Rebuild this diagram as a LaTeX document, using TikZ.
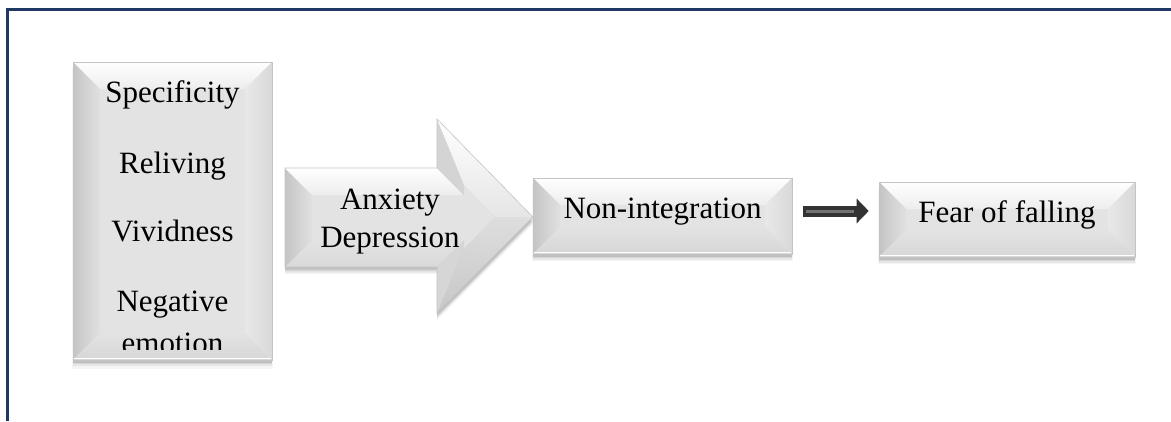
\documentclass[tikz,border=0pt]{standalone}
\usepackage{fontspec}
\setmainfont{Liberation Serif}
\usetikzlibrary{calc,arrows.meta,shadows}
\definecolor{framecol}{HTML}{1F3864}
\definecolor{facec}{HTML}{E3E3E3}
\definecolor{edgec}{HTML}{C4C4C4}
\newcommand\mybevelfaces[1]{%
  \path (path picture bounding box.south west) coordinate (q1)
        (path picture bounding box.north west) coordinate (q2)
        (path picture bounding box.north east) coordinate (q3)
        (path picture bounding box.south east) coordinate (q4);
  \shade[top color=white, bottom color=black!7]
    (q2) -- (q3) -- ([shift={(-#1,-#1)}]q3) -- ([shift={(#1,-#1)}]q2) -- cycle;
  \shade[left color=black!23, right color=black!12]
    (q1) -- (q2) -- ([shift={(#1,-#1)}]q2) -- ([shift={(#1,#1)}]q1) -- cycle;
  \shade[left color=black!9, right color=black!15]
    (q4) -- (q3) -- ([shift={(-#1,-#1)}]q3) -- ([shift={(-#1,#1)}]q4) -- cycle;
  \shade[top color=black!11, bottom color=black!16]
    (q1) -- (q4) -- ([shift={(-#1,#1)}]q4) -- ([shift={(#1,#1)}]q1) -- cycle;
  \draw[white, line width=1.2pt] ([shift={(1pt,1.2pt)}]q1) -- ([shift={(-1pt,1.2pt)}]q4);
}
\tikzset{
  softshadow/.style={
    drop shadow={shadow xshift=0pt, shadow yshift=-7pt, shadow scale=1.01, opacity=.04, fill=black},
    drop shadow={shadow xshift=0pt, shadow yshift=-5.5pt, opacity=.06, fill=black},
    drop shadow={shadow xshift=0pt, shadow yshift=-4pt, opacity=.08, fill=black},
    drop shadow={shadow xshift=0pt, shadow yshift=-2.5pt, opacity=.10, fill=black}},
  bevelbox/.style={draw=edgec, line width=0.6pt, fill=facec, inner sep=0pt,
    softshadow, path picture={\mybevelfaces{27pt}}},
  txt/.style={inner sep=0pt, font=\fontsize{31}{38}\selectfont, text=black},
  smallarr/.style={line width=11pt, draw=black!80, -{Triangle[length=12pt,width=24pt]}},
  framestyle/.style={draw=framecol, line width=3pt},
}
\begin{document}
\begin{tikzpicture}[x=1pt,y=-1pt]
\useasboundingbox (0,0) rectangle (1171,421);
% frame
\draw[framestyle] (7.5,421) -- (7.5,9.5) -- (1171,9.5);

% left box
\node[bevelbox, minimum width=199pt, minimum height=298pt] (spec) at (172.5,211) {};
\begin{scope}
  \clip (73,62) rectangle (272,349);
  \node[txt, anchor=base] (t1) at (172.5,102) {Specificity};
  \node[txt, anchor=base] (t2) at (172.5,173) {Reliving};
  \node[txt, anchor=base] (t3) at (172.5,241) {Vividness};
  \node[txt, anchor=base] (t4) at (172.5,311) {Negative};
  \node[txt, anchor=base] (t5) at (172.5,353) {emotion};
\end{scope}

% big arrow
\coordinate (a1) at (285,168);
\coordinate (a2) at (437,168);
\coordinate (a3) at (437,119);
\coordinate (a4) at (533,217);
\coordinate (a5) at (437,313);
\coordinate (a6) at (437,267);
\coordinate (a7) at (285,267);
\coordinate (b1) at (312,195);
\coordinate (b2) at (464,195);
\coordinate (b3) at (464,185);
\coordinate (b4) at (495,217);
\coordinate (b5) at (464,249);
\coordinate (b6) at (464,240);
\coordinate (b7) at (312,240);
\foreach \s/\o in {7/.04,5.5/.06,4/.08,2.5/.10}{
  \fill[black, opacity=\o, transform canvas={yshift=-\s pt}] (a1)--(a2)--(a3)--(a4)--(a5)--(a6)--(a7)--cycle;
}
\fill[facec] (b1)--(b2)--(b3)--(b4)--(b5)--(b6)--(b7)--cycle;
\shade[left color=black!23, right color=black!12] (a7)--(a1)--(b1)--(b7)--cycle;
\shade[top color=white, bottom color=black!7] (a1)--(a2)--(b2)--(b1)--cycle;
\fill[black!17] (a2)--(a3)--(b3)--(b2)--cycle;
\shade[top color=white, bottom color=black!10] (a3)--(a4)--(b4)--(b3)--cycle;
\shade[top color=black!13, bottom color=black!22] (a4)--(a5)--(b5)--(b4)--cycle;
\fill[black!16] (a5)--(a6)--(b6)--(b5)--cycle;
\shade[top color=black!11, bottom color=black!15] (a6)--(a7)--(b7)--(b6)--cycle;
\draw[edgec, line width=.6pt, line join=miter] (a1)--(a2)--(a3)--(a4)--(a5)--(a6)--(a7)--cycle;
\node[txt, align=center, anchor=center] (anx) at (390,222) {Anxiety\\Depression};

% non-integration box
\node[bevelbox, minimum width=259pt, minimum height=76pt] (nonint) at (662.5,216) {};
\node[txt, anchor=base] (nonintlabel) at (662.5,218) {Non-integration};

% fear box
\node[bevelbox, minimum width=256pt, minimum height=75pt] (fear) at (1007,219.5) {};
\node[txt, anchor=base] (fearlabel) at (1007,222) {Fear of falling};

% small arrow
\draw[smallarr] ([shift={(11,-5)}]nonint.east) -- ([shift={(-10,-8.5)}]fear.west);
\draw[black!55, line width=3pt] ([shift={(14,-5)}]nonint.east) -- ([shift={(-25,-8.5)}]fear.west);
\end{tikzpicture}
\end{document}
